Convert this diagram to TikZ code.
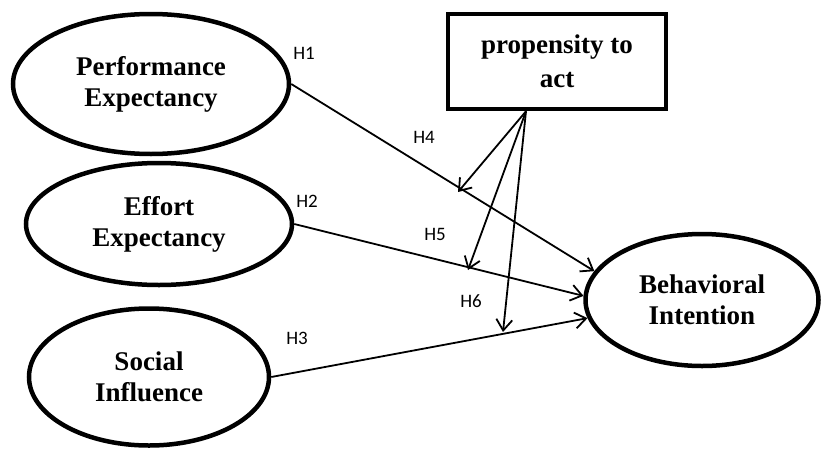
\documentclass[tikz,border=0pt]{standalone}
\usepackage{fontspec}
\setmainfont{Liberation Serif}
\newfontfamily\hfont{Carlito}
\usetikzlibrary{shapes.geometric,arrows.meta}
\begin{document}
\begin{tikzpicture}[x=1pt,y=-1pt,
  construct/.style={ellipse,draw,line width=4.5pt,inner sep=0pt,align=center,
    font=\fontsize{27}{31}\selectfont\bfseries},
  modbox/.style={rectangle,draw,line width=4.5pt,inner sep=0pt,align=center,
    font=\fontsize{27}{34}\selectfont\bfseries},
  path/.style={line width=1.8pt,-{Straight Barb[length=11pt,width=16pt,line width=1.8pt]}},
  hlab/.style={font=\hfont\fontsize{19}{20}\selectfont,inner sep=0pt}]
\useasboundingbox (0,0) rectangle (822,450);
\node[construct,minimum width=276pt,minimum height=140pt] (pe) at (151,84) {Performance\\Expectancy};
\node[construct,minimum width=266pt,minimum height=122pt] (ee) at (159,224) {Effort\\Expectancy};
\node[construct,minimum width=240pt,minimum height=137pt] (si) at (149,377) {Social\\Influence};
\node[construct,minimum width=233pt,minimum height=132pt] (bi) at (702,300) {Behavioral\\Intention};
\node[modbox,minimum width=218pt,minimum height=95pt] (pa) at (557,61.5) {propensity to\\act};
\draw[path] (pe.east) -- (bi.165);
\draw[path] (ee.east) -- (bi.178);
\draw[path] (si.east) -- (bi.189);
\coordinate (src) at ([xshift=-31pt]pa.south);
\coordinate (h4) at (458,192);
\coordinate (h5) at (468,270);
\coordinate (h6) at (503,332);
\draw[path] (src) -- (h4);
\draw[path] (src) -- (h5);
\draw[path] (src) -- (h6);
\node[hlab] (l1) at (304,53) {H1};
\node[hlab] (l2) at (307,201) {H2};
\node[hlab] (l3) at (297,338) {H3};
\node[hlab] (l4) at (424,137) {H4};
\node[hlab] (l5) at (435,234) {H5};
\node[hlab] (l6) at (471,301) {H6};
\end{tikzpicture}
\end{document}
